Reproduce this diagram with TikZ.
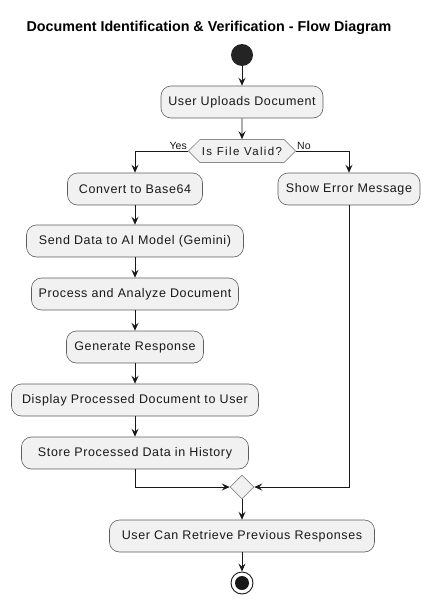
\documentclass[tikz,border=0pt]{standalone}
\usepackage{fontspec}
\setmainfont{Liberation Sans}
\usetikzlibrary{arrows.meta,shapes.geometric,shapes.misc,shapes.symbols}
\definecolor{boxfill}{HTML}{F1F1F1}
\definecolor{ink}{HTML}{181818}
\newfontfamily\actfont[LetterSpace=5]{Liberation Sans}
\newfontfamily\decfont[LetterSpace=12]{Liberation Sans}
\begin{document}
\begin{tikzpicture}[x=1pt,y=-1pt,
  act/.style={draw=ink!70, line width=0.6pt, fill=boxfill, rounded corners=10pt,
    minimum height=32pt, inner xsep=4pt, font=\actfont\fontsize{12.5}{14}\selectfont, text=ink},
  flow/.style={draw=ink, line width=0.9pt, -{Stealth[length=8pt,width=7pt,inset=3pt]}},
  lbl/.style={font=\fontsize{10.5}{12}\selectfont, text=ink, inner sep=1pt}
]
\useasboundingbox (0,0) rectangle (431,605);
\node[font=\bfseries\fontsize{14.3}{16}\selectfont] (title) at (209,28) {Document Identification \& Verification - Flow Diagram};
\node[circle, fill=ink!95, minimum size=22pt, inner sep=0] (start) at (242,55) {};
\node[act, minimum width=162pt] (upload) at (242,102) {User Uploads Document};
\node[signal, signal to=west and east, draw=ink!50, line width=0.6pt, fill=boxfill,
  minimum height=23pt, minimum width=107pt, inner xsep=2pt, signal pointer angle=90,
  font=\decfont\fontsize{11.5}{13}\selectfont, text=ink] (valid) at (242,151) {Is File Valid?};
\node[act, minimum width=135pt] (b64) at (135,189) {Convert to Base64};
\node[act, minimum width=142pt] (err) at (349,189) {Show Error Message};
\node[act, minimum width=217pt] (send) at (135,241) {Send Data to AI Model (Gemini)};
\node[act, minimum width=207pt] (proc) at (135,294) {Process and Analyze Document};
\node[act, minimum width=137pt] (gen) at (135,347) {Generate Response};
\node[act, minimum width=247pt] (disp) at (135,400) {Display Processed Document to User};
\node[act, minimum width=227pt] (store) at (135,453) {Store Processed Data in History};
\node[diamond, draw=ink!50, line width=0.6pt, fill=boxfill, minimum size=24pt, inner sep=0] (merge) at (242,487) {};
\node[act, minimum width=265pt] (retr) at (242,536) {User Can Retrieve Previous Responses};
\node[circle, draw=ink, line width=0.9pt, minimum size=22pt, inner sep=0] (end) at (242,583) {};
\node[circle, fill=ink, minimum size=14pt, inner sep=0] (endin) at (end.center) {};
\node[lbl, anchor=south east] (yes) at (valid.west) {Yes};
\node[lbl, anchor=south west] (no) at (valid.east) {No};

\draw[flow] (start) -- (upload);
\draw[flow] (upload) -- (valid);
\draw[flow] (valid.west) -| (b64.north);
\draw[flow] (valid.east) -| (err.north);
\draw[flow] (b64) -- (send);
\draw[flow] (send) -- (proc);
\draw[flow] (proc) -- (gen);
\draw[flow] (gen) -- (disp);
\draw[flow] (disp) -- (store);
\draw[flow] (store.south) |- (merge.west);
\draw[flow] (err.south) |- (merge.east);
\draw[flow] (merge) -- (retr);
\draw[flow] (retr) -- (end);
\end{tikzpicture}
\end{document}
